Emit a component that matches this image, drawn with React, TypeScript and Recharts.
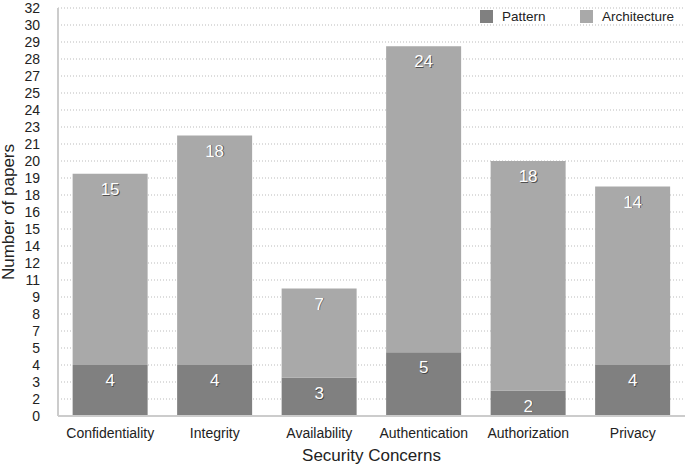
import { BarChart, Bar, XAxis, YAxis, CartesianGrid, LabelList } from "recharts"

const CATEGORIES = ["Confidentiality", "Integrity", "Availability", "Authentication", "Authorization", "Privacy"]
const PATTERN = [4, 4, 3, 5, 2, 4]
const ARCHITECTURE = [15, 18, 7, 24, 18, 14]
const Y_LABELS = ["0", "2", "3", "4", "5", "7", "8", "9", "11", "12", "14", "15", "16", "18", "19", "20", "21", "23", "24", "25", "27", "28", "29", "30", "32"]
const Y_MAX = 32

const data = CATEGORIES.map((name, i) => ({ name, pattern: PATTERN[i], architecture: ARCHITECTURE[i] }))
const yTicks = Y_LABELS.map((_, i) => (i * Y_MAX) / (Y_LABELS.length - 1))

const FONT = "'Liberation Sans', Arial, Helvetica, sans-serif"
const DARK = "#808080"
const LIGHT = "#a9a9a9"
const TEXT = "#222"

const BarLabel = (props: any) => {
  const { x, y, width, value } = props
  const cx = x + width / 2
  const cy = y + 21
  return (
    <g fontFamily={FONT} fontSize={17} textAnchor="middle">
      <text x={cx + 0.8} y={cy + 0.8} fill="#333" opacity={0.75}>{value}</text>
      <text x={cx} y={cy} fill="#fff">{value}</text>
    </g>
  )
}

const YTitle = (props: any) => {
  const { viewBox } = props
  const cy = viewBox.y + viewBox.height / 2
  return (
    <text
      x={14}
      y={cy}
      transform={`rotate(-90 14 ${cy})`}
      textAnchor="middle"
      fontFamily={FONT}
      fontSize={17}
      fill={TEXT}
    >
      Number of papers
    </text>
  )
}

const LEGEND = [
  { name: "Pattern", color: DARK, left: 480 },
  { name: "Architecture", color: LIGHT, left: 580 },
]

export default function App() {
  return (
    <div style={{ position: "absolute", left: 0, top: 0, width: 685, height: 467, background: "#fff" }}>
      <BarChart
        width={685}
        height={467}
        data={data}
        margin={{ top: 8, right: 0, left: 0, bottom: 0 }}
        barCategoryGap="14%"
      >
        <CartesianGrid horizontal vertical={false} stroke="#bbb" strokeDasharray="1 2" />
        <XAxis
          dataKey="name"
          height={51}
          tickLine={false}
          axisLine={{ stroke: "#ccc", strokeWidth: 2 }}
          tick={{ fontSize: 14, fill: TEXT, fontFamily: FONT }}
          tickMargin={6}
          interval={0}
          label={{ value: "Security Concerns", position: "insideBottom", offset: 6, fontSize: 17, fill: TEXT, fontFamily: FONT }}
        />
        <YAxis
          width={58}
          domain={[0, Y_MAX]}
          ticks={yTicks}
          interval={0}
          tickFormatter={(_v: number, i: number) => Y_LABELS[i]}
          tickLine={false}
          axisLine={{ stroke: "#ccc", strokeWidth: 2 }}
          tick={{ fontSize: 14, fill: TEXT, fontFamily: FONT }}
          tickMargin={12}
          label={<YTitle />}
        />
        <Bar dataKey="pattern" name="Pattern" stackId="a" fill={DARK} isAnimationActive={false}>
          <LabelList dataKey="pattern" content={<BarLabel />} />
        </Bar>
        <Bar dataKey="architecture" name="Architecture" stackId="a" fill={LIGHT} isAnimationActive={false}>
          <LabelList dataKey="architecture" content={<BarLabel />} />
        </Bar>
      </BarChart>
      {LEGEND.map((item) => (
        <div
          key={item.name}
          style={{
            position: "absolute",
            left: item.left,
            top: 9,
            display: "flex",
            alignItems: "center",
            fontFamily: FONT,
            fontSize: 13.5,
            color: TEXT,
            background: "#fff",
            paddingRight: 4,
          }}
        >
          <span style={{ width: 13, height: 13, background: item.color, marginRight: 9, display: "inline-block" }} />
          {item.name}
        </div>
      ))}
    </div>
  )
}
